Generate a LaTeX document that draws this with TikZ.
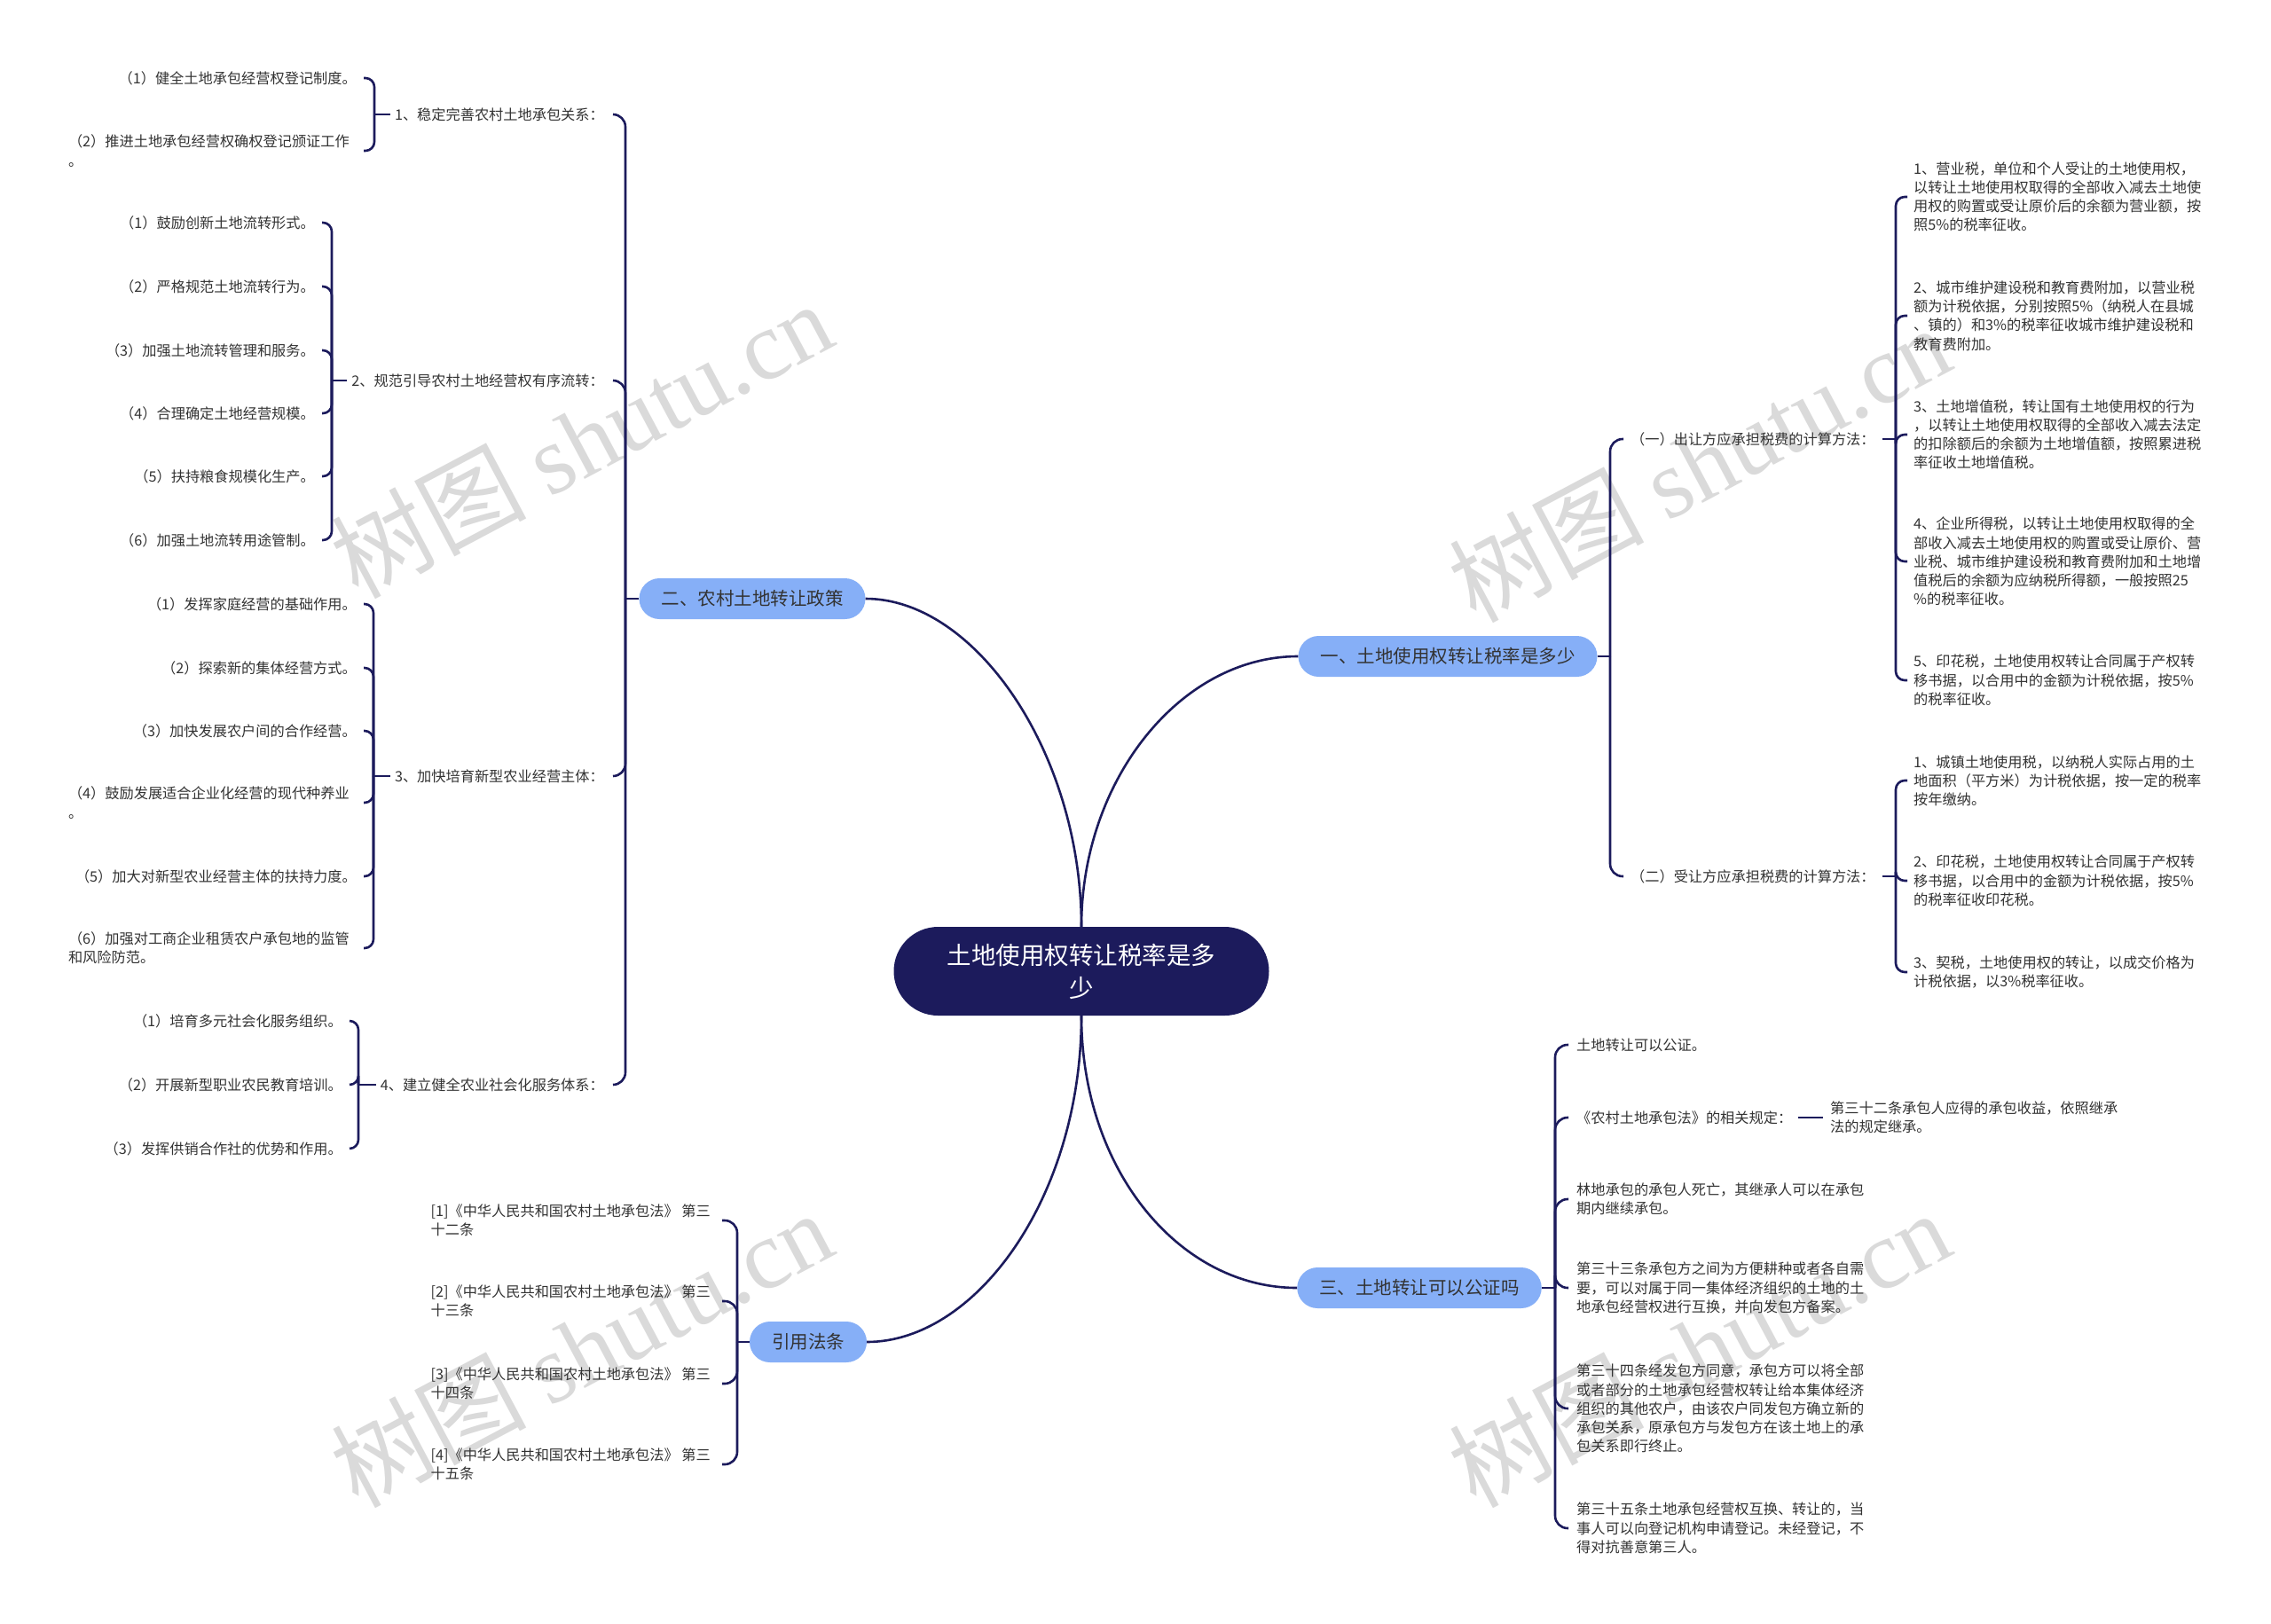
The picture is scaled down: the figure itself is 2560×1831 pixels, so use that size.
\documentclass[tikz,border=0pt]{standalone}
\usepackage{fontspec}
\setmainfont{Noto Sans CJK SC}
\newfontfamily\wmserif{Liberation Serif}
\usetikzlibrary{calc}
\definecolor{navy}{RGB}{28,27,92}
\definecolor{branchblue}{RGB}{134,175,247}
\definecolor{txt}{RGB}{51,51,51}
\definecolor{wm}{RGB}{218,218,218}
\begin{document}
\begin{tikzpicture}[x=1pt,y=-1pt,
  conn/.style={draw=navy, line width=2.6pt, rounded corners=10pt},
  trunk/.style={conn, rounded corners=14pt},
  small/.style={font=\fontsize{16.2}{21.2}\selectfont, text=txt, inner sep=0pt, align=left},
  branch/.style={fill=branchblue, rounded corners=23pt, minimum height=46pt, inner xsep=25pt, inner ysep=0pt, font=\fontsize{20.5}{24}\selectfont, text=txt},
  rootbox/.style={fill=navy, rounded corners=50pt, minimum width=423pt, minimum height=100pt, font=\fontsize{27.5}{37}\selectfont, text=white, align=center, inner sep=0pt},
  wmark/.style={text=wm, rotate=28, font=\fontsize{110}{110}\selectfont, inner sep=0pt}
]
\useasboundingbox (0,0) rectangle (2560,1831);
\fill[white] (0,0) rectangle (2560,1831);

% watermarks
\node[wmark] (wm1) at (655,495) {树图 {\wmserif shutu.cn}};
\node[wmark] (wm2) at (1915,522) {树图 {\wmserif shutu.cn}};
\node[wmark] (wm3) at (655,1520) {树图 {\wmserif shutu.cn}};
\node[wmark] (wm4) at (1915,1520) {树图 {\wmserif shutu.cn}};

% root and branches
\node[rootbox] (root) at (1219,1095) {土地使用权转让税率是多\\少};
\node[branch] (b1) at (1632,740) {一、土地使用权转让税率是多少};
\node[branch] (b2) at (848,675) {二、农村土地转让政策};
\node[branch] (b3) at (1600,1452) {三、土地转让可以公证吗};
\node[branch] (b4) at (911,1513) {引用法条};

\draw[conn] (root.north) .. controls (1219,850) and (1100,675) .. (b2.east);
\draw[conn] (root.north) .. controls (1219,880) and (1330,740) .. (b1.west);
\draw[conn] (root.south) .. controls (1219,1320) and (1330,1452) .. (b3.west);
\draw[conn] (root.south) .. controls (1219,1350) and (1100,1513) .. (b4.east);

% ---------- left tree ----------
\node[small, anchor=east] (l1) at (681,129) {1、稳定完善农村土地承包关系：};
\node[small, anchor=east] (l2) at (681,429) {2、规范引导农村土地经营权有序流转：};
\node[small, anchor=east] (l3) at (681,875) {3、加快培育新型农业经营主体：};
\node[small, anchor=east] (l4) at (681,1223) {4、建立健全农业社会化服务体系：};
\draw[conn] (b2.west) -- (705,675);
\foreach \n in {l1,l2,l3,l4} \draw[trunk] (705,675) |- ([xshift=10pt]\n.east);

\node[small, anchor=east] (la1) at (402,88) {（1）健全土地承包经营权登记制度。};
\node[small, anchor=east] (la2) at (394,170) {（2）推进土地承包经营权确权登记颁证工作\\。};
\draw[conn] ([xshift=-5pt]l1.west) -- (422,129);
\draw[conn] (422,129) |- ([xshift=8pt]la1.east);
\draw[conn] (422,129) |- ([xshift=16pt]la2.east);

\node[small, anchor=east] (lb1) at (355,251) {（1）鼓励创新土地流转形式。};
\node[small, anchor=east] (lb2) at (355,323) {（2）严格规范土地流转行为。};
\node[small, anchor=east] (lb3) at (355,395) {（3）加强土地流转管理和服务。};
\node[small, anchor=east] (lb4) at (355,466) {（4）合理确定土地经营规模。};
\node[small, anchor=east] (lb5) at (355,537) {（5）扶持粮食规模化生产。};
\node[small, anchor=east] (lb6) at (355,609) {（6）加强土地流转用途管制。};
\draw[conn] ([xshift=-5pt]l2.west) -- (374,429);
\foreach \n in {lb1,lb2,lb3,lb4,lb5,lb6} \draw[conn] (374,429) |- ([xshift=8pt]\n.east);

\node[small, anchor=east] (lc1) at (402,681) {（1）发挥家庭经营的基础作用。};
\node[small, anchor=east] (lc2) at (402,753) {（2）探索新的集体经营方式。};
\node[small, anchor=east] (lc3) at (402,824) {（3）加快发展农户间的合作经营。};
\node[small, anchor=east] (lc4) at (394,905) {（4）鼓励发展适合企业化经营的现代种养业\\。};
\node[small, anchor=east] (lc5) at (402,988) {（5）加大对新型农业经营主体的扶持力度。};
\node[small, anchor=east] (lc6) at (394,1069) {（6）加强对工商企业租赁农户承包地的监管\\和风险防范。};
\draw[conn] ([xshift=-5pt]l3.west) -- (421,875);
\foreach \n in {lc1,lc2,lc3,lc5} \draw[conn] (421,875) |- ([xshift=8pt]\n.east);
\foreach \n in {lc4,lc6} \draw[conn] (421,875) |- ([xshift=16pt]\n.east);

\node[small, anchor=east] (ld1) at (386,1151) {（1）培育多元社会化服务组织。};
\node[small, anchor=east] (ld2) at (386,1223) {（2）开展新型职业农民教育培训。};
\node[small, anchor=east] (ld3) at (386,1295) {（3）发挥供销合作社的优势和作用。};
\draw[conn] ([xshift=-5pt]l4.west) -- (404,1223);
\foreach \n in {ld1,ld2,ld3} \draw[conn] (404,1223) |- ([xshift=8pt]\n.east);

% ---------- right tree: 一 ----------
\node[small, anchor=west] (r1) at (1838,495) {（一）出让方应承担税费的计算方法：};
\node[small, anchor=west] (r2) at (1838,988) {（二）受让方应承担税费的计算方法：};
\draw[conn] (b1.east) -- (1815,740);
\foreach \n in {r1,r2} \draw[trunk] (1815,740) |- ([xshift=-8pt]\n.west);

\node[small, anchor=west] (p1) at (2157,222) {1、营业税，单位和个人受让的土地使用权，\\以转让土地使用权取得的全部收入减去土地使\\用权的购置或受让原价后的余额为营业额，按\\照5\%的税率征收。};
\node[small, anchor=west] (p2) at (2157,356) {2、城市维护建设税和教育费附加，以营业税\\额为计税依据，分别按照5\%（纳税人在县城\\、镇的）和3\%的税率征收城市维护建设税和\\教育费附加。};
\node[small, anchor=west] (p3) at (2157,490) {3、土地增值税，转让国有土地使用权的行为\\，以转让土地使用权取得的全部收入减去法定\\的扣除额后的余额为土地增值额，按照累进税\\率征收土地增值税。};
\node[small, anchor=west] (p4) at (2157,633) {4、企业所得税，以转让土地使用权取得的全\\部收入减去土地使用权的购置或受让原价、营\\业税、城市维护建设税和教育费附加和土地增\\值税后的余额为应纳税所得额，一般按照25\\\%的税率征收。};
\node[small, anchor=west] (p5) at (2157,767) {5、印花税，土地使用权转让合同属于产权转\\移书据，以合用中的金额为计税依据，按5\%\\的税率征收。};
\draw[conn] ([xshift=8pt]r1.east) -- (2137,495);
\foreach \n in {p1,p2,p3,p4,p5} \draw[conn] (2137,495) |- ([xshift=-7pt]\n.west);

\node[small, anchor=west] (q1) at (2157,880) {1、城镇土地使用税，以纳税人实际占用的土\\地面积（平方米）为计税依据，按一定的税率\\按年缴纳。};
\node[small, anchor=west] (q2) at (2157,993) {2、印花税，土地使用权转让合同属于产权转\\移书据，以合用中的金额为计税依据，按5\%\\的税率征收印花税。};
\node[small, anchor=west] (q3) at (2157,1096) {3、契税，土地使用权的转让，以成交价格为\\计税依据，以3\%税率征收。};
\draw[conn] ([xshift=8pt]r2.east) -- (2137,988);
\foreach \n in {q1,q2,q3} \draw[conn] (2137,988) |- ([xshift=-7pt]\n.west);

% ---------- right tree: 三 ----------
\node[small, anchor=west] (t1) at (1777,1178) {土地转让可以公证。};
\node[small, anchor=west] (t2) at (1777,1260) {《农村土地承包法》的相关规定：};
\node[small, anchor=west] (t3) at (1777,1352) {林地承包的承包人死亡，其继承人可以在承包\\期内继续承包。};
\node[small, anchor=west] (t4) at (1777,1452) {第三十三条承包方之间为方便耕种或者各自需\\要，可以对属于同一集体经济组织的土地的土\\地承包经营权进行互换，并向发包方备案。};
\node[small, anchor=west] (t5) at (1777,1588) {第三十四条经发包方同意，承包方可以将全部\\或者部分的土地承包经营权转让给本集体经济\\组织的其他农户，由该农户同发包方确立新的\\承包关系，原承包方与发包方在该土地上的承\\包关系即行终止。};
\node[small, anchor=west] (t6) at (1777,1723) {第三十五条土地承包经营权互换、转让的，当\\事人可以向登记机构申请登记。未经登记，不\\得对抗善意第三人。};
\draw[conn] (b3.east) -- (1753,1452);
\foreach \n in {t1,t2,t3,t4,t5,t6} \draw[trunk] (1753,1452) |- ([xshift=-9pt]\n.west);

\node[small, anchor=west] (t2a) at (2063,1260) {第三十二条承包人应得的承包收益，依照继承\\法的规定继承。};
\draw[conn] ([xshift=7pt]t2.east) -- ([xshift=-8pt]t2a.west);

% ---------- 引用法条 ----------
\node[small, anchor=east] (f1) at (801,1376) {[1]《中华人民共和国农村土地承包法》 第三\\十二条};
\node[small, anchor=east] (f2) at (801,1467) {[2]《中华人民共和国农村土地承包法》 第三\\十三条};
\node[small, anchor=east] (f3) at (801,1560) {[3]《中华人民共和国农村土地承包法》 第三\\十四条};
\node[small, anchor=east] (f4) at (801,1651) {[4]《中华人民共和国农村土地承包法》 第三\\十五条};
\draw[conn] (b4.west) -- (831,1513);
\foreach \n in {f1,f2,f3,f4} \draw[trunk] (831,1513) |- ([xshift=13pt]\n.east);
\end{tikzpicture}
\end{document}
